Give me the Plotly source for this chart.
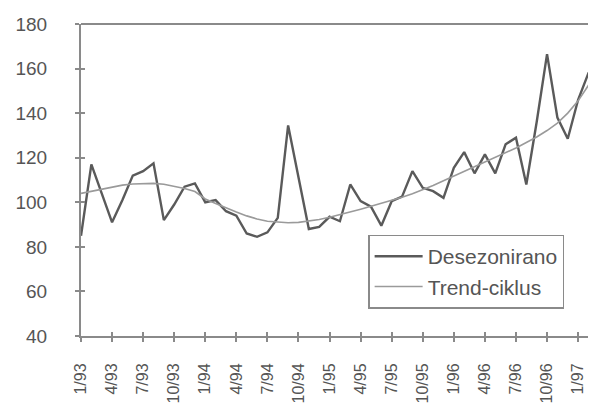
import plotly.graph_objects as go

months = ["1/93","2/93","3/93","4/93","5/93","6/93","7/93","8/93","9/93","10/93","11/93","12/93",
          "1/94","2/94","3/94","4/94","5/94","6/94","7/94","8/94","9/94","10/94","11/94","12/94",
          "1/95","2/95","3/95","4/95","5/95","6/95","7/95","8/95","9/95","10/95","11/95","12/95",
          "1/96","2/96","3/96","4/96","5/96","6/96","7/96","8/96","9/96","10/96","11/96","12/96",
          "1/97","2/97","3/97"]

desezonirano = [85, 117, 104, 91, 101, 112, 114, 117.5, 92, 99, 107, 108.5,
                100, 101, 96, 94, 86, 84.5, 86.5, 93, 134.5, 111, 88, 89,
                93.5, 91.5, 108, 100.5, 98, 89.5, 100.5, 102.5, 114, 106.5, 105, 102,
                115.5, 122.5, 113, 121.5, 113, 126, 129, 108, 136, 166.5, 138, 128.5,
                146, 158, 161]

trend = [104, 105, 106, 107, 107.7, 108.2, 108.5, 108.5, 108.1, 107.3, 106.2, 104.8,
         101.5, 99.5, 97.5, 95.6, 93.9, 92.5, 91.5, 91, 90.8, 91, 91.5, 92.3,
         93.3, 94.4, 95.6, 96.9, 98.2, 99.5, 100.9, 102.3, 103.8, 105.5, 107.5, 109.7,
         111.8, 113.8, 115.8, 117.9, 120, 122.2, 124.4, 126.8, 129.3, 132.2, 135.5, 140,
         145.5, 152.5, 159.5]

tick_labels = ["1/93","4/93","7/93","10/93","1/94","4/94","7/94","10/94","1/95","4/95",
               "7/95","10/95","1/96","4/96","7/96","10/96","1/97"]
y_ticks = [40, 60, 80, 100, 120, 140, 160, 180]

xidx = list(range(len(months)))
tickpos = [months.index(t) for t in tick_labels]

FONT = "Liberation Sans, Arial, sans-serif"
TXT = "#555555"
AX = "#8a8a8a"

fig = go.Figure()
fig.add_trace(go.Scatter(x=xidx, y=desezonirano, mode="lines", name="Desezonirano",
                         line=dict(color="#5a5a5a", width=2.4)))
fig.add_trace(go.Scatter(x=xidx, y=trend, mode="lines", name="Trend-ciklus",
                         line=dict(color="#9a9a9a", width=1.6)))
# invisible trace for overlay axes (inside tick marks)
fig.add_trace(go.Scatter(x=[xidx[0]], y=[y_ticks[0]], xaxis="x2", yaxis="y2",
                         mode="markers", marker=dict(opacity=0), showlegend=False,
                         hoverinfo="skip"))

fig.update_layout(
    width=596, height=403,
    margin=dict(l=73, r=0, t=16, b=75),
    paper_bgcolor="white", plot_bgcolor="white",
    font=dict(family=FONT, color=TXT),
    showlegend=True,
    legend=dict(x=0.549, y=0.325, xanchor="left", yanchor="top",
                bgcolor="white", bordercolor=AX, borderwidth=1.5,
                font=dict(size=21, color=TXT, family=FONT),
                tracegroupgap=0, itemwidth=48),
    xaxis=dict(range=[0, 50.5], tickmode="array", tickvals=tickpos, ticktext=tick_labels,
               tickangle=-90, tickfont=dict(size=16, color=TXT), ticks="outside",
               ticklen=4, tickwidth=1.5, tickcolor=AX, showline=True, linecolor=AX,
               linewidth=2, showgrid=False, zeroline=False, ticklabelstandoff=15,
               automargin=False),
    yaxis=dict(range=[40, 180], tickmode="array", tickvals=y_ticks,
               tickfont=dict(size=19, color=TXT), ticks="outside", ticklen=4,
               tickwidth=1.5, tickcolor=AX, showline=True, linecolor=AX, linewidth=2,
               showgrid=False, zeroline=False, ticklabelstandoff=24, automargin=False),
    xaxis2=dict(overlaying="x", matches="x", anchor="y2", tickmode="array",
                tickvals=tickpos, ticks="inside", ticklen=4, tickwidth=1.5,
                tickcolor=AX, showticklabels=False, showline=False, showgrid=False,
                zeroline=False, automargin=False),
    yaxis2=dict(overlaying="y", matches="y", anchor="x2", tickmode="array",
                tickvals=y_ticks, ticks="inside", ticklen=4, tickwidth=1.5,
                tickcolor=AX, showticklabels=False, showline=False, showgrid=False,
                zeroline=False, automargin=False),
    shapes=[dict(type="line", xref="paper", yref="paper", x0=0, x1=1, y0=1, y1=1,
                 line=dict(color=AX, width=2))],
)

fig.write_html("out.html")
